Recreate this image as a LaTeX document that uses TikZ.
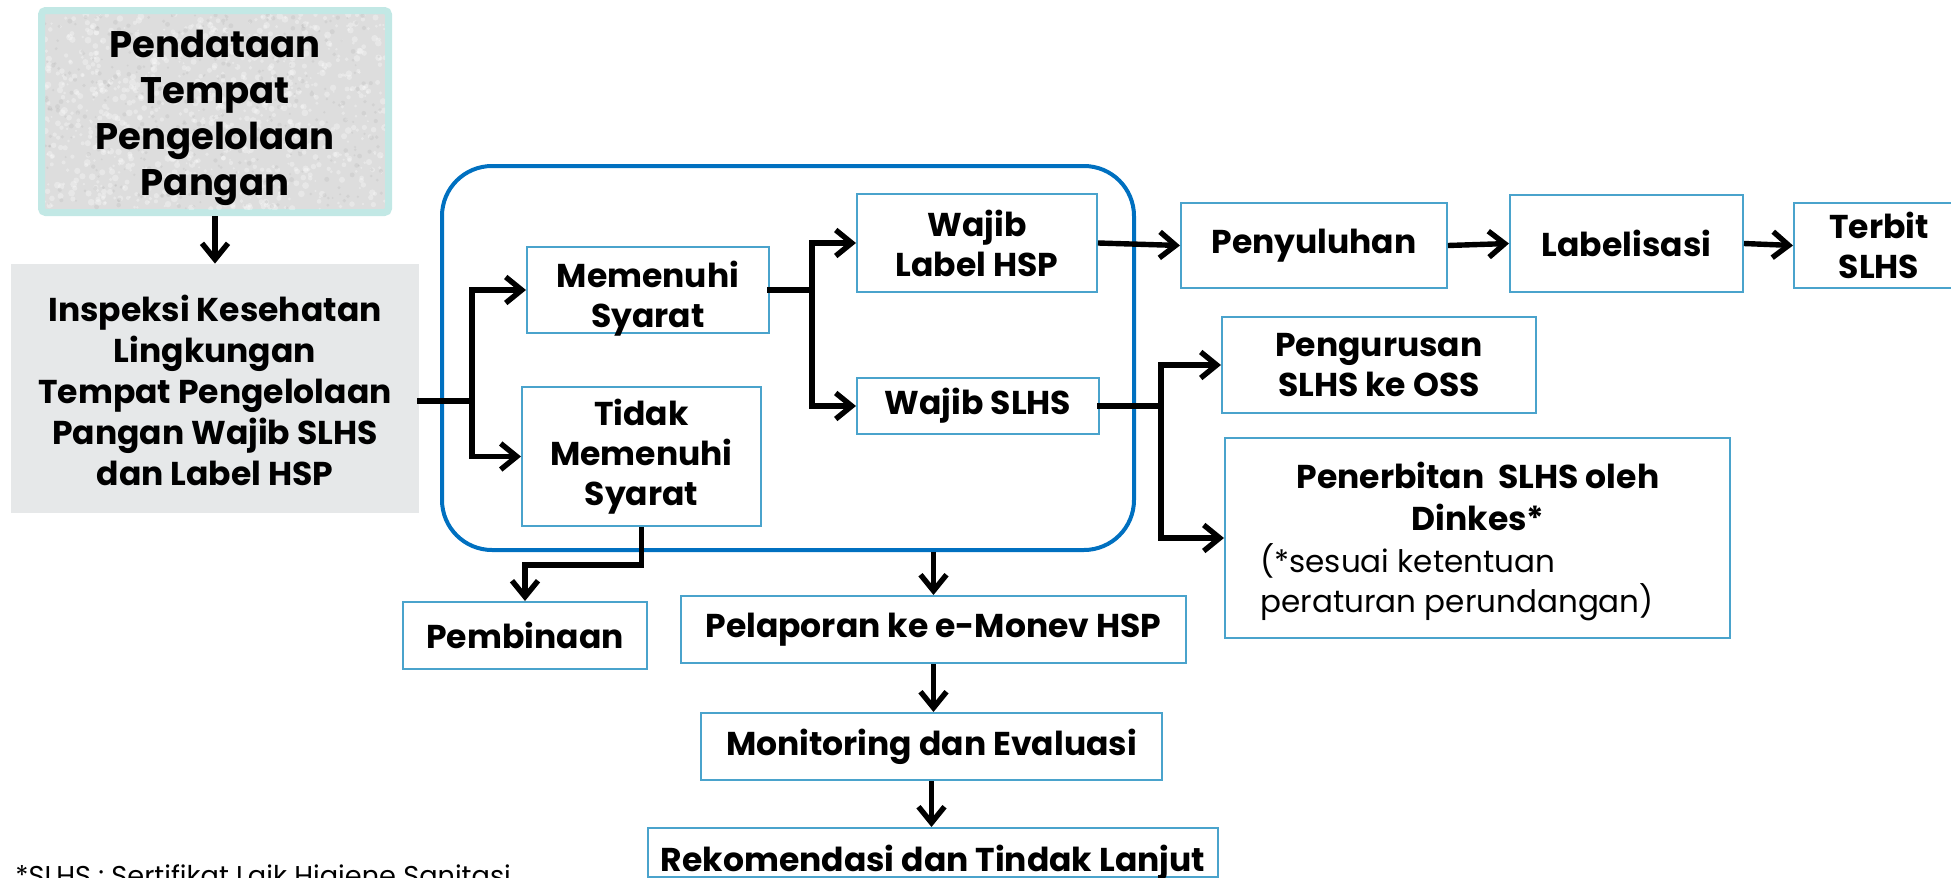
\documentclass[tikz,border=0pt]{standalone}
\usepackage{fontspec}
\setmainfont{Poppins}
\usetikzlibrary{arrows.meta}
\definecolor{bx}{HTML}{4AA3CC}
\definecolor{rb}{HTML}{0070C0}
\definecolor{tealb}{HTML}{C2E8E5}
\definecolor{grayf}{HTML}{E6E8E9}
\definecolor{texf}{HTML}{DDDDDD}
\begin{document}
\begin{tikzpicture}[x=0.5pt,y=-0.5pt,
  box/.style={draw=bx, line width=1pt, fill=white, align=center, inner sep=0pt,
    font=\bfseries\fontsize{16.5}{20}\selectfont},
  txt/.style={align=center, inner sep=0pt, font=\bfseries\fontsize{16.5}{20}\selectfont},
  reg/.style={inner sep=0pt, font=\fontsize{15.5}{20}\selectfont},
  seg/.style={line width=2.7pt, line cap=rect},
  conn/.style={line width=2.7pt, line join=miter, -{Straight Barb[length=8pt,width=13pt]}}]
\useasboundingbox (0,0) rectangle (1951,878);

% top-left boxes
\node[draw=tealb, line width=3.5pt, rounded corners=2pt, fill=texf,
  minimum width=173.5pt, minimum height=101pt, inner sep=0pt] (pend) at (215,111.5) {};
\begin{scope}
  \clip (45,14) rectangle (385,209);
  \pgfmathsetseed{7}
  \foreach \i in {1,...,900}{
    \pgfmathsetmacro\xx{45+340*rnd}
    \pgfmathsetmacro\yy{14+195*rnd}
    \pgfmathsetmacro\rr{1+2.5*rnd}
    \fill[white, opacity=0.3] (\xx,\yy) circle[radius=\rr*0.5pt];
  }
  \foreach \i in {1,...,400}{
    \pgfmathsetmacro\xx{45+340*rnd}
    \pgfmathsetmacro\yy{14+195*rnd}
    \pgfmathsetmacro\rr{1+1.5*rnd}
    \fill[black!30, opacity=0.25] (\xx,\yy) circle[radius=\rr*0.5pt];
  }
\end{scope}
\node[txt, font=\bfseries\fontsize{18.5}{23}\selectfont] (pendtxt) at (215,118)
  {Pendataan\\Tempat\\Pengelolaan\\Pangan};
\node[fill=grayf, minimum width=204pt, minimum height=124.5pt, inner sep=0pt] (insp) at (215,388.5) {};
\node[txt, font=\bfseries\fontsize{16.5}{20.5}\selectfont] (insptxt) at (215,390) {Inspeksi Kesehatan\\Lingkungan\\Tempat Pengelolaan\\Pangan Wajib SLHS\\dan Label HSP};

% big rounded frame
\node[draw=rb, line width=2pt, rounded corners=25pt, minimum width=346pt, minimum height=192pt, inner sep=0pt] (big) at (788,358) {};

\node[box, minimum width=121pt, minimum height=43pt] (mem) at (648,290) {};
\node[txt] (memtxt) at (648,299) {Memenuhi\\Syarat};
\node[box, minimum width=119.5pt, minimum height=69.5pt] (tidak) at (641.5,456.5) {Tidak\\Memenuhi\\Syarat};
\node[box, minimum width=120pt, minimum height=49pt] (wlab) at (977,243) {Wajib\\Label HSP};
\node[box, minimum width=121pt, minimum height=28pt] (wslhs) at (978,406) {Wajib SLHS};

% right side
\node[box, minimum width=133pt, minimum height=42.5pt] (peny) at (1314,245.5) {Penyuluhan};
\node[box, minimum width=116.5pt, minimum height=48.5pt] (label) at (1626.5,243.5) {Labelisasi};
\node[box, minimum width=85pt, minimum height=42.5pt] (terbit) at (1879,245.5) {Terbit\\SLHS};
\node[box, minimum width=157pt, minimum height=48pt] (peng) at (1379,365) {Pengurusan\\SLHS ke OSS};
\node[box, minimum width=252.5pt, minimum height=100pt] (pener) at (1477.5,538) {};
\node[txt, anchor=base] (pt1) at (1478,488) {Penerbitan\ \ SLHS oleh};
\node[txt, anchor=base] (pt2) at (1478,530) {Dinkes*};
\node[reg, anchor=base west] (pt3) at (1260,572) {(*sesuai ketentuan};
\node[reg, anchor=base west] (pt4) at (1260,612) {peraturan perundangan)};

% bottom
\node[box, minimum width=122pt, minimum height=33.5pt] (pemb) at (525,635.5) {Pembinaan};
\node[box, minimum width=252.5pt, minimum height=33.5pt] (pel) at (933.5,629.5) {Pelaporan ke e-Monev HSP};
\node[box, minimum width=230.5pt, minimum height=33.5pt] (mon) at (931.5,746.5) {Monitoring dan Evaluasi};
\node[box, minimum width=285pt, minimum height=24.5pt] (rek) at (933,852.5) {};
\node[txt, anchor=base] (rektxt) at (933,871) {Rekomendasi dan Tindak Lanjut};
\node[anchor=base west, inner sep=0pt, font=\fontsize{13.6}{16}\selectfont] (fn) at (15,885) {*SLHS : Sertifikat Laik Higiene Sanitasi};

% connectors
\draw[conn] (pend.south) -- (insp.north);
\coordinate (j1) at (472,401);
\draw[seg] (insp.east |- j1) -- (j1);
\draw[conn] (j1) |- (mem.west);
\draw[conn] (j1) |- (tidak.west);
\coordinate (j2) at (812,290);
\draw[seg] (mem.east) -- (j2);
\draw[conn] (j2) |- (wlab.west);
\draw[conn] (j2) |- (wslhs.west);
\coordinate (j3) at (1161,406);
\draw[seg] (wslhs.east) -- (j3);
\draw[conn] (j3) |- (peng.west);
\draw[conn] (j3) |- (pener.west);
\draw[conn] (wlab.east) -- (peny.west);
\draw[conn] (peny.east) -- (label.west);
\draw[conn] (label.east) -- (terbit.west);
\draw[conn] (tidak.south) -- ++(0,38) -| (pemb.north);
\draw[conn] (big.south -| pel.north) -- (pel.north);
\draw[conn] (pel.south) -- (pel.south |- mon.north);
\draw[conn] (mon.south) -- (mon.south |- rek.north);
\end{tikzpicture}
\end{document}
